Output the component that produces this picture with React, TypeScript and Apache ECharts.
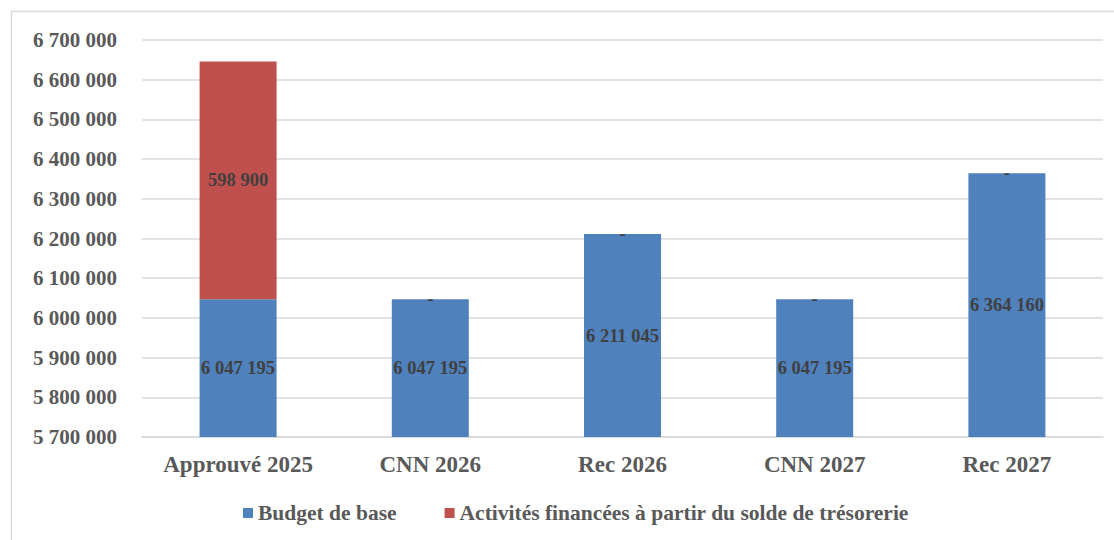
import React, { useEffect, useRef } from "react";
import * as echarts from "echarts";

const categories = ["Approuvé 2025", "CNN 2026", "Rec 2026", "CNN 2027", "Rec 2027"];
const budgetDeBase = [6047195, 6047195, 6211045, 6047195, 6364160];
const activitesTresorerie = [598900, 0, 0, 0, 0];
const seriesNames = ["Budget de base", "Activités financées à partir du solde de trésorerie"];
const yMin = 5700000;
const yMax = 6700000;
const yStep = 100000;

const fmt = (v: number) => String(Math.round(v)).replace(/\B(?=(\d{3})+(?!\d))/g, " ");
const FONT = "'Liberation Serif', 'Times New Roman', serif";

export default function App() {
  const ref = useRef<HTMLDivElement>(null);
  useEffect(() => {
    if (!ref.current) return;
    const chart = echarts.init(ref.current, undefined, { renderer: "svg" });
    chart.setOption({
      animation: false,
      backgroundColor: "#ffffff",
      graphic: [
        {
          type: "rect",
          shape: { x: 11.5, y: 11.5, width: 1300, height: 700 },
          style: { fill: "none", stroke: "#d9d9d9", lineWidth: 1.5 },
          silent: true,
          z: -10,
        },
      ],
      grid: { left: 142, right: 11, top: 40, bottom: 103, containLabel: false },
      legend: {
        bottom: 11,
        left: 238,
        itemWidth: 10,
        itemHeight: 10,
        itemGap: 48,
        icon: "rect",
        textStyle: { fontFamily: FONT, fontWeight: "bold", fontSize: 21.5, color: "#595959" },
        data: seriesNames,
      },
      xAxis: {
        type: "category",
        data: categories,
        axisLine: { show: true, lineStyle: { color: "#d9d9d9", width: 1.5 } },
        axisTick: { show: false },
        axisLabel: { interval: 0, fontFamily: FONT, fontWeight: "bold", fontSize: 23, color: "#595959", margin: 16 },
      },
      yAxis: {
        type: "value",
        min: yMin,
        max: yMax,
        interval: yStep,
        axisLine: { show: false },
        axisTick: { show: false },
        splitLine: { lineStyle: { color: "#d9d9d9", width: 1.5 } },
        axisLabel: {
          fontFamily: FONT,
          fontWeight: "bold",
          fontSize: 21,
          color: "#595959",
          margin: 25,
          formatter: (v: number) => fmt(v),
        },
      },
      series: [
        {
          name: seriesNames[0],
          type: "bar",
          stack: "total",
          barWidth: 77,
          data: budgetDeBase,
          itemStyle: { color: "#4f81bd" },
          label: {
            show: true,
            position: "inside",
            fontFamily: FONT,
            fontWeight: "bold",
            fontSize: 18.5,
            color: "#404040",
            formatter: (p: any) => fmt(p.value),
          },
        },
        {
          name: seriesNames[1],
          type: "bar",
          stack: "total",
          barWidth: 77,
          data: activitesTresorerie,
          itemStyle: { color: "#c0504d" },
          label: {
            show: true,
            position: "inside",
            fontFamily: FONT,
            fontWeight: "bold",
            fontSize: 18.5,
            color: "#404040",
            formatter: (p: any) => (p.value === 0 ? "-" : fmt(p.value)),
          },
        },
      ],
    });
    return () => chart.dispose();
  }, []);
  return <div ref={ref} style={{ position: "fixed", left: 0, top: 0, width: 1114, height: 540 }} />;
}
